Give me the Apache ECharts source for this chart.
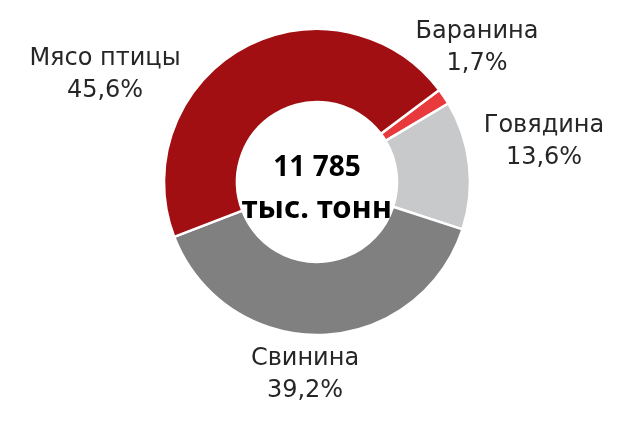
<!DOCTYPE html>
<html><head><meta charset="utf-8">
<script src="https://cdn.jsdelivr.net/npm/echarts@6/dist/echarts.min.js"></script>
<style>html,body{margin:0;padding:0;background:#fff}#c{width:628px;height:425px}</style>
</head><body><div id="c"></div>
<script>
const categories = ['Баранина', 'Говядина', 'Свинина', 'Мясо птицы'];
const shares = [1.7, 13.6, 39.2, 45.6];
const totalLine1 = '11 785';
const totalLine2 = 'тыс. тонн';

// styling
const colors = ['#e83a3c', '#c8c9cb', '#808080', '#a20f12'];
const labelCenters = [[477, 48], [544, 142], [305, 375], [105, 75]];
const FONT = 'DejaVu Sans';
const CFONT = 'Noto Sans';

const chart = echarts.init(document.getElementById('c'));
chart.setOption({
  animation: false,
  graphic: [{
    type: 'text', x: 317, y: 168, z: 10,
    style: { text: totalLine1, font: 'bold 28px "' + CFONT + '"', fill: '#000', align: 'center', verticalAlign: 'middle' }
  }, {
    type: 'text', x: 317, y: 209, z: 10,
    style: { text: totalLine2, font: 'bold 31px "' + CFONT + '"', fill: '#000', align: 'center', verticalAlign: 'middle' }
  }],
  series: [{
    type: 'pie',
    center: [317, 182],
    radius: [80, 153],
    startAngle: 37,
    clockwise: true,
    avoidLabelOverlap: false,
    itemStyle: { borderColor: '#fff', borderWidth: 2.5 },
    label: {
      show: true, position: 'outside', overflow: 'none', width: 200,
      fontFamily: FONT, fontSize: 24, color: '#262626', lineHeight: 32, align: 'center',
      formatter: p => p.name + '\n' + p.value.toFixed(1).replace('.', ',') + '%'
    },
    labelLine: { show: false },
    labelLayout: p => ({
      x: labelCenters[p.dataIndex][0], y: labelCenters[p.dataIndex][1],
      align: 'center', verticalAlign: 'middle'
    }),
    data: categories.map((c, i) => ({ name: c, value: shares[i], itemStyle: { color: colors[i] } }))
  }]
});
</script></body></html>
